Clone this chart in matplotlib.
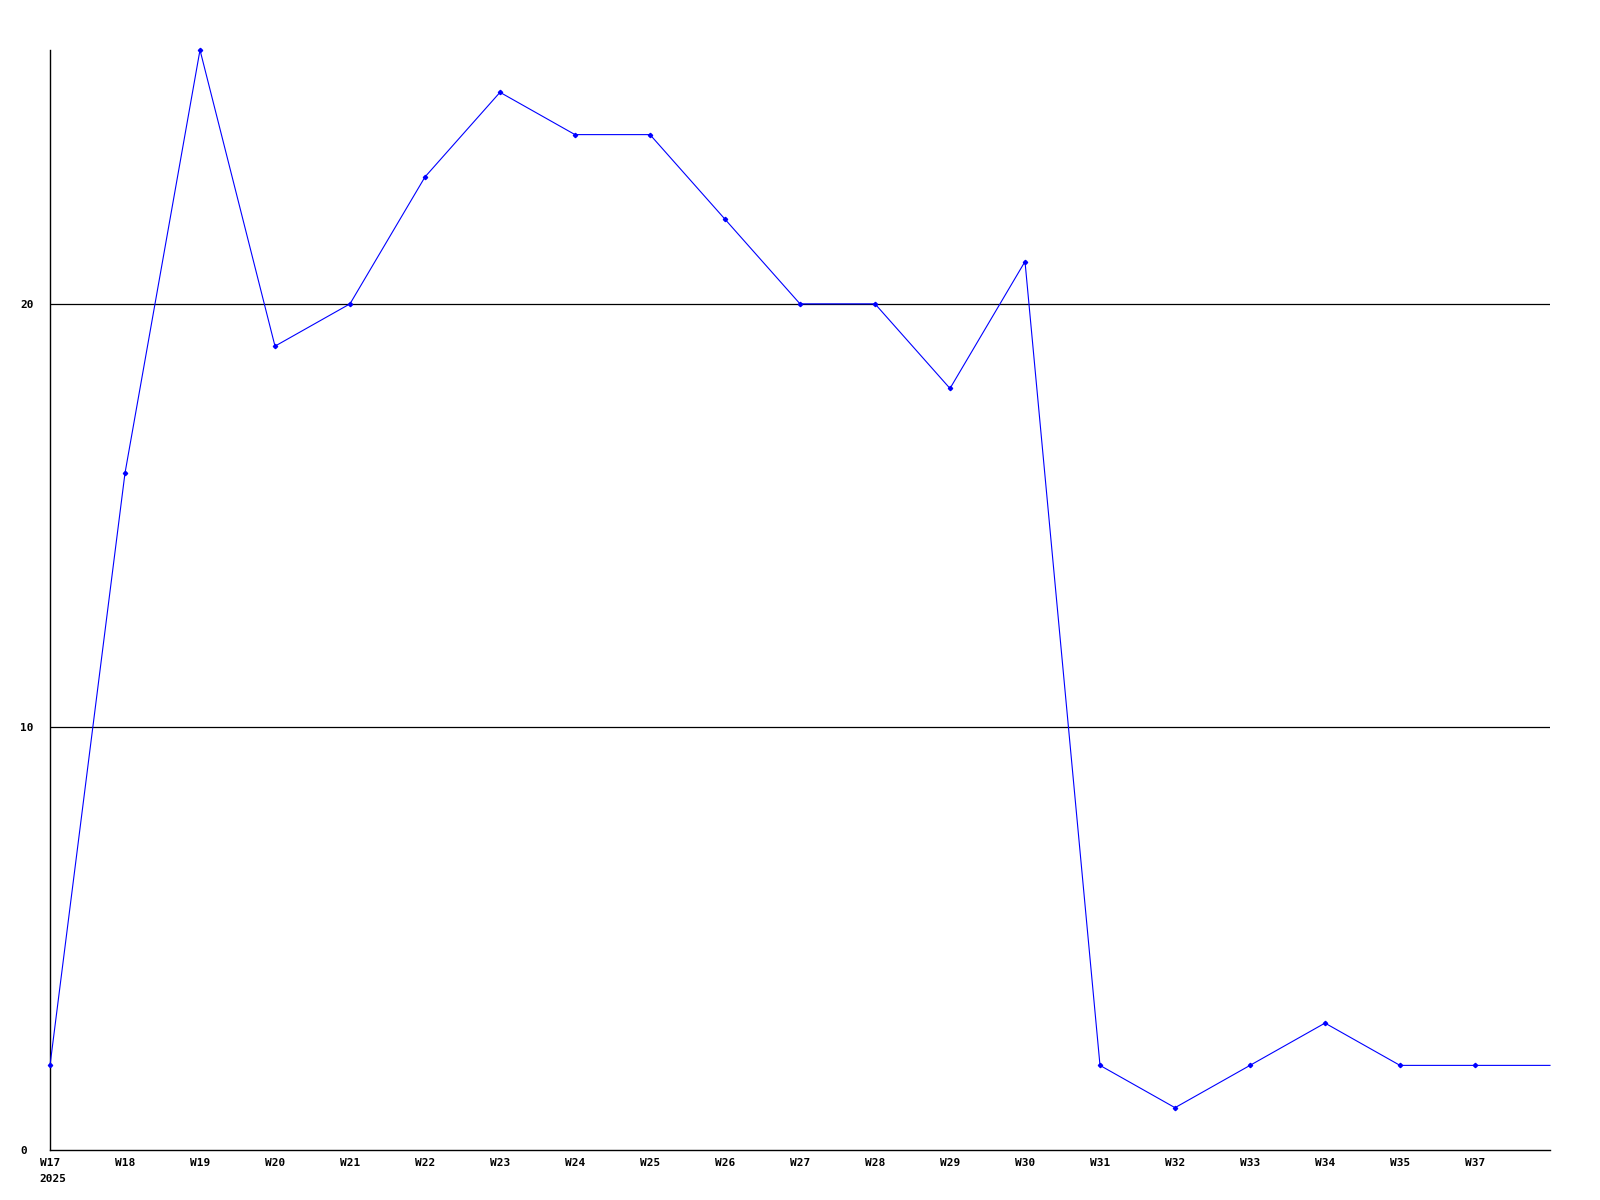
import matplotlib
matplotlib.use("Agg")
import matplotlib.pyplot as plt

week_labels = ["W17", "W18", "W19", "W20", "W21", "W22", "W23", "W24", "W25", "W26",
               "W27", "W28", "W29", "W30", "W31", "W32", "W33", "W34", "W35", "W37", ""]
values = [2, 16, 26, 19, 20, 23, 25, 24, 24, 22,
          20, 20, 18, 21, 2, 1, 2, 3, 2, 2, 2]
y_ticks = [0, 10, 20]
year_label = "2025"

fig = plt.figure(figsize=(16, 12), dpi=100)
ax = fig.add_axes([50/1600, 50/1200, 1500/1600, 1100/1200])

xs = list(range(len(values)))
ax.plot(xs, values, color="#0000ff", lw=0.8, marker="D", markersize=2.2,
        markevery=list(range(len(values) - 1)), clip_on=False, zorder=3)

ax.set_xlim(0, len(values) - 1)
ax.set_ylim(0, 26)

font = dict(family="DejaVu Sans Mono", weight="bold", size=8)
ax.set_xticks(xs[:-1])
ax.set_xticklabels(week_labels[:-1], **font)
ax.set_yticks(y_ticks)
ax.set_yticklabels([str(v) for v in y_ticks], ha="left", **font)
ax.tick_params(axis="both", length=0)
ax.tick_params(axis="x", pad=6)
ax.tick_params(axis="y", pad=21.5)

for v in y_ticks[1:]:
    ax.axhline(v, color="black", lw=0.9, zorder=1)

for s in ["top", "right"]:
    ax.spines[s].set_visible(False)
for s in ["left", "bottom"]:
    ax.spines[s].set_color("black")
    ax.spines[s].set_linewidth(1.0)

ax.text(-0.147, -0.022, year_label, transform=ax.get_xaxis_transform(),
        ha="left", va="top", **font)

fig.savefig("out.png", dpi=100, facecolor="white")
